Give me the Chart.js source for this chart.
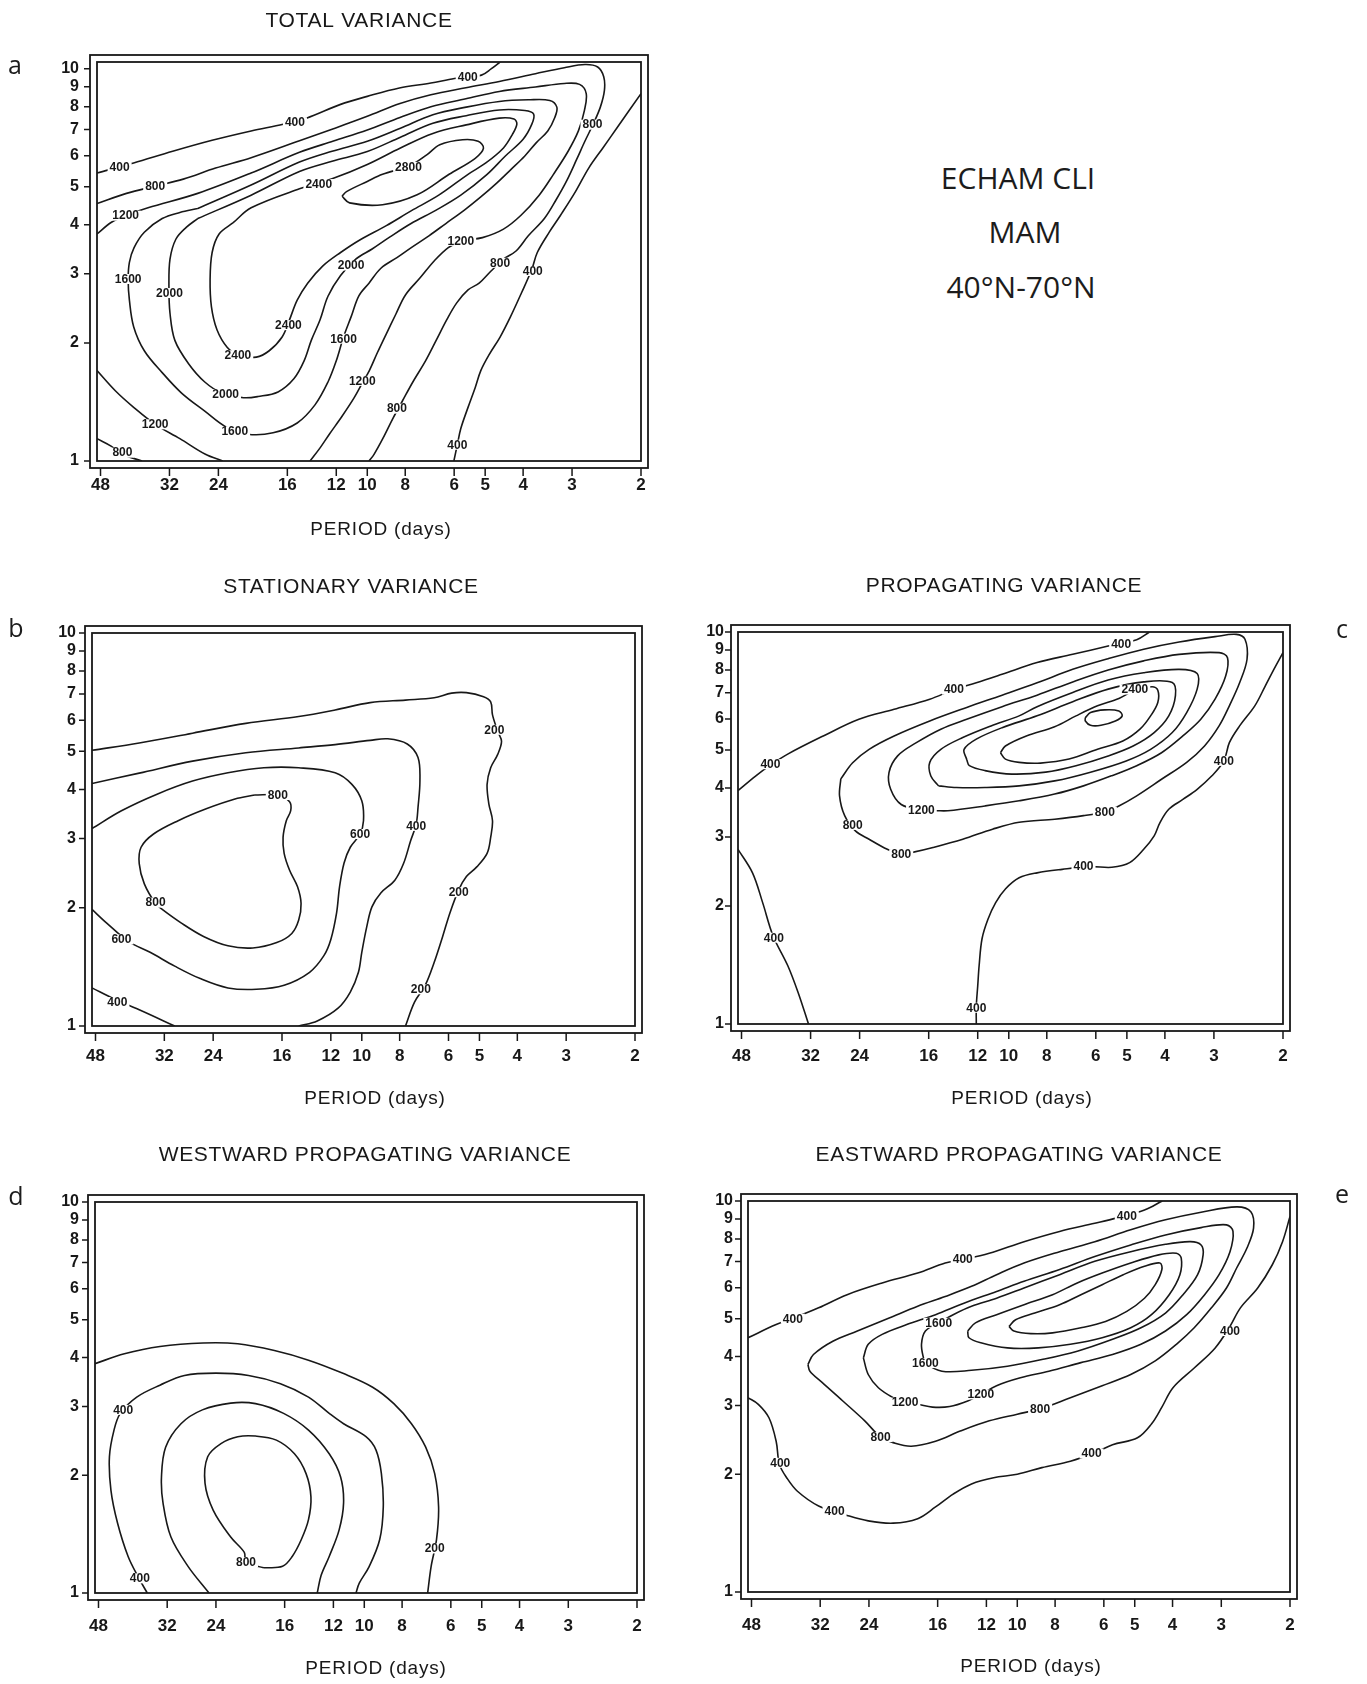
<!DOCTYPE html>
<html>
<head>
<meta charset="utf-8">
<title>ECHAM CLI MAM 40°N-70°N variance spectra</title>
<script src="https://cdn.jsdelivr.net/npm/chart.js@4.4.1/dist/chart.umd.min.js"></script>
<style>
  html, body { margin: 0; padding: 0; background: #fff; }
  #page { position: relative; width: 1367px; height: 1684px; background: #fff; overflow: hidden; }
  #page canvas { position: absolute; }
  .tag { position: absolute; transform: translate(-50%, -50%); font-family: "Open Sans", "DejaVu Sans", sans-serif; color: #1c1c1c; white-space: nowrap; }
  .letter { font-size: 25px; }
  .info { font-size: 30px; }
</style>
</head>
<body>
<div id="page">
  <canvas id="totalChart"></canvas>
  <canvas id="stationaryChart"></canvas>
  <canvas id="propagatingChart"></canvas>
  <canvas id="westwardChart"></canvas>
  <canvas id="eastwardChart"></canvas>

  <div class="tag letter" style="left:15px;top:64px">a</div>
  <div class="tag letter" style="left:16px;top:627px">b</div>
  <div class="tag letter" style="left:1342px;top:628px">c</div>
  <div class="tag letter" style="left:16px;top:1195px">d</div>
  <div class="tag letter" style="left:1342px;top:1193px">e</div>

  <div class="tag info" style="left:1018px;top:177px">ECHAM CLI</div>
  <div class="tag info" style="left:1025px;top:231px">MAM</div>
  <div class="tag info" style="left:1021px;top:286px">40°N-70°N</div>
</div>

<script>
// axis ticks: period in days (log, reversed) and zonal wavenumber (log)
const periodTicks = [48, 32, 24, 16, 12, 10, 8, 6, 5, 4, 3, 2];
const waveTicks = [1, 2, 3, 4, 5, 6, 7, 8, 9, 10];

// contour lines, [period, wavenumber]
// a) total variance
const total400a = [[49,5.42],[39.5,5.75],[31.4,6.16],[24.9,6.57],[19.8,6.94],[16.4,7.22],[14.3,7.48],[11.7,8.11],[10.0,8.50],[8.28,8.93],[6.88,9.19],[5.99,9.44],[5.11,9.63],[4.82,10.0],[4.58,10.4]];
const total400b = [[2,8.64],[2.30,7.08],[2.50,6.29],[2.72,5.58],[2.94,4.86],[3.21,4.23],[3.43,3.83],[3.68,3.40],[3.80,3.08],[4.04,2.68],[4.31,2.33],[4.58,2.07],[4.88,1.87],[5.13,1.70],[5.30,1.54],[5.53,1.37],[5.77,1.21],[5.89,1.10],[6.01,1.0]];
const total800a = [[49,4.53],[41.2,4.81],[34.8,5.02],[29.5,5.23],[24.4,5.58],[19.8,5.93],[14.9,6.55],[12.2,7.03],[10.0,7.56],[8.25,8.15],[6.88,8.58],[5.60,8.94],[4.60,9.28],[3.72,9.71],[3.14,10.06],[2.78,10.25],[2.58,10.10],[2.49,9.54],[2.48,8.80],[2.54,7.98],[2.65,7.22],[2.78,6.54],[2.92,5.87],[3.09,5.20],[3.30,4.62],[3.53,4.15],[3.88,3.75],[4.17,3.43],[4.49,3.27],[4.83,3.05],[5.18,2.84],[5.53,2.73],[5.91,2.53],[6.27,2.29],[6.67,2.03],[7.10,1.80],[7.65,1.59],[8.14,1.42],[8.58,1.29],[9.13,1.14],[9.61,1.04],[9.90,1.0]];
const total800b = [[49,1.14],[45.0,1.09],[42.2,1.04],[37.6,1.0]];
const total1200a = [[49,3.79],[45.0,4.06],[41.2,4.23],[36.3,4.42],[27.1,4.81],[19.8,5.42],[14.9,6.12],[12.2,6.54],[10.0,6.98],[8.25,7.51],[6.88,8.00],[5.60,8.38],[4.60,8.75],[3.72,8.98],[3.14,9.17],[2.87,9.12],[2.76,8.64],[2.79,7.82],[2.89,6.94],[3.07,6.16],[3.35,5.37],[3.64,4.76],[4.05,4.23],[4.49,3.90],[5.08,3.71],[5.74,3.64],[6.21,3.50],[6.74,3.24],[7.33,2.93],[7.99,2.65],[8.45,2.37],[8.94,2.11],[9.42,1.89],[9.88,1.70],[10.3,1.58],[10.8,1.45],[11.6,1.30],[12.5,1.17],[13.2,1.08],[14.0,1.0]];
const total1200b = [[49,1.70],[44.0,1.51],[39.5,1.37],[34.8,1.24],[30.1,1.14],[25.9,1.04],[23.4,1.0]];
const total1600 = [[27.1,4.40],[19.8,5.05],[14.9,5.78],[12.3,6.16],[10.0,6.53],[8.23,7.05],[6.80,7.63],[5.59,7.98],[4.60,8.25],[3.88,8.33],[3.42,8.30],[3.28,7.98],[3.32,7.51],[3.46,6.94],[3.70,6.48],[3.96,5.99],[4.30,5.53],[4.68,5.10],[5.13,4.71],[5.65,4.36],[6.30,4.03],[6.96,3.75],[7.72,3.50],[8.40,3.30],[9.23,3.10],[9.90,2.84],[10.5,2.64],[11.0,2.33],[11.5,2.07],[12.0,1.80],[12.6,1.59],[13.6,1.39],[15.1,1.25],[17.4,1.18],[20.2,1.17],[22.9,1.22],[26.0,1.34],[29.8,1.49],[33.4,1.68],[37.1,1.91],[39.5,2.20],[40.5,2.57],[40.8,2.90],[40.5,3.21],[39.4,3.50],[37.1,3.83],[33.4,4.15],[30.1,4.30],[27.1,4.40]];
const total2000 = [[27.1,4.15],[19.8,4.76],[14.9,5.47],[12.3,5.81],[10.0,6.15],[8.23,6.69],[6.80,7.26],[5.59,7.59],[4.60,7.85],[3.96,7.82],[3.76,7.66],[3.80,7.22],[4.00,6.61],[4.44,5.99],[4.96,5.36],[5.77,4.76],[6.67,4.36],[7.73,4.03],[8.77,3.72],[9.72,3.47],[10.7,3.27],[11.7,2.97],[12.6,2.63],[13.2,2.29],[13.9,2.03],[14.5,1.80],[15.4,1.62],[16.9,1.50],[19.0,1.46],[20.7,1.45],[23.5,1.49],[26.0,1.59],[28.6,1.77],[31.0,2.03],[31.9,2.38],[32.1,2.78],[31.9,3.27],[30.8,3.68],[29.0,3.94],[27.1,4.15]];
const total2400 = [[22.0,4.05],[19.8,4.42],[14.9,4.94],[12.3,5.24],[10.0,5.70],[8.23,6.28],[6.80,6.84],[5.59,7.19],[4.60,7.48],[4.22,7.44],[4.15,7.22],[4.26,6.80],[4.49,6.28],[4.98,5.75],[5.53,5.38],[6.57,4.76],[7.73,4.34],[8.94,3.98],[10.4,3.67],[11.7,3.40],[13.0,3.14],[14.2,2.84],[15.1,2.57],[15.8,2.29],[16.5,2.07],[17.8,1.91],[19.2,1.84],[21.3,1.86],[22.8,1.95],[24.2,2.16],[25.0,2.47],[25.2,2.90],[24.9,3.40],[23.9,3.79],[22.0,4.05]];
const total2800 = [[11.6,4.73],[11.1,4.55],[9.14,4.50],[7.46,4.77],[6.18,5.38],[5.30,5.91],[5.05,6.27],[5.21,6.53],[5.71,6.59],[6.53,6.40],[7.05,6.03],[7.79,5.66],[9.14,5.38],[10.0,5.16],[11.3,4.86],[11.6,4.73]];
const totalLabels = [[42.9,5.6,'400'],[15.3,7.3,'400'],[5.54,9.5,'400'],[3.78,3.05,'400'],[5.89,1.10,'400'],
  [34.8,5.03,'800'],[2.66,7.2,'800'],[4.58,3.2,'800'],[8.40,1.36,'800'],[42.2,1.05,'800'],
  [41.4,4.22,'1200'],[5.77,3.64,'1200'],[10.3,1.60,'1200'],[34.8,1.24,'1200'],
  [40.8,2.91,'1600'],[11.5,2.05,'1600'],[21.8,1.19,'1600'],
  [32.0,2.68,'2000'],[23.0,1.48,'2000'],[11.0,3.15,'2000'],
  [13.3,5.08,'2400'],[15.9,2.22,'2400'],[21.4,1.86,'2400'],[7.85,5.62,'2800']];

// b) stationary variance
const stat200 = [[49,5.03],[37.1,5.25],[27.1,5.56],[19.8,5.89],[14.5,6.13],[11.7,6.37],[9.52,6.65],[7.73,6.75],[6.53,6.84],[5.89,7.03],[5.40,7.05],[4.88,6.88],[4.68,6.68],[4.63,6.19],[4.49,5.62],[4.39,5.30],[4.49,4.91],[4.68,4.54],[4.78,4.12],[4.73,3.67],[4.63,3.33],[4.68,3.02],[4.78,2.75],[5.08,2.54],[5.40,2.40],[5.65,2.22],[5.95,1.94],[6.21,1.69],[6.53,1.45],[6.88,1.27],[7.33,1.15],[7.73,1.0]];
const stat400a = [[49,4.14],[37.1,4.40],[27.1,4.72],[19.8,4.96],[14.5,5.10],[11.7,5.20],[9.52,5.33],[8.58,5.38],[7.65,5.22],[7.18,4.82],[7.10,4.20],[7.18,3.60],[7.26,3.26],[7.50,2.96],[7.82,2.59],[8.23,2.35],[8.94,2.18],[9.42,2.01],[9.71,1.79],[10.0,1.54],[10.2,1.37],[10.7,1.22],[11.5,1.11],[13.0,1.03],[14.5,1.0]];
const stat400b = [[49,1.25],[42.9,1.17],[37.1,1.10],[30.1,1.0]];
const stat600 = [[49,3.18],[41.2,3.53],[33.4,3.89],[27.1,4.20],[22.0,4.41],[17.8,4.54],[14.5,4.54],[11.7,4.41],[10.6,4.12],[10.0,3.74],[9.90,3.33],[10.1,3.08],[10.7,2.85],[11.1,2.60],[11.4,2.26],[11.6,1.94],[12.0,1.66],[12.5,1.51],[13.6,1.37],[15.8,1.27],[18.6,1.24],[22.0,1.25],[25.9,1.32],[30.1,1.42],[34.8,1.54],[39.5,1.64],[45.0,1.83],[49,1.98]];
const stat800 = [[18.8,3.87],[16.4,3.87],[15.3,3.72],[15.2,3.53],[15.6,3.33],[15.9,3.02],[15.8,2.75],[15.3,2.49],[14.6,2.26],[14.3,2.05],[14.5,1.86],[15.1,1.72],[16.5,1.63],[19.0,1.58],[22.0,1.60],[25.4,1.69],[29.0,1.83],[32.4,1.98],[33.7,2.05],[36.0,2.30],[37.1,2.59],[36.7,2.85],[34.1,3.08],[29.5,3.33],[25.0,3.57],[21.1,3.78],[18.8,3.87]];
const statLabels = [[4.58,5.67,'200'],[5.65,2.19,'200'],[7.06,1.24,'200'],[7.26,3.23,'400'],[42.2,1.15,'400'],
  [10.1,3.08,'600'],[41.2,1.66,'600'],[16.4,3.87,'800'],[33.7,2.06,'800']];

// c) propagating variance
const prop400a = [[49,3.94],[44.2,4.29],[40.7,4.56],[36.6,4.88],[29.7,5.43],[24.1,5.99],[19.6,6.35],[15.9,6.74],[13.8,7.13],[12.1,7.42],[10.4,7.80],[8.47,8.36],[6.87,8.77],[5.58,9.21],[4.72,9.56],[4.38,10.0]];
const prop400b = [[2,8.86],[2.11,8.03],[2.22,7.28],[2.36,6.48],[2.58,5.76],[2.74,5.22],[2.83,4.69],[3.04,4.29],[3.31,3.97],[3.60,3.74],[3.91,3.53],[4.12,3.26],[4.26,3.02],[4.53,2.79],[4.92,2.58],[5.46,2.51],[6.19,2.52],[7.31,2.48],[8.47,2.43],[9.41,2.36],[10.2,2.21],[10.8,2.04],[11.3,1.85],[11.7,1.65],[11.9,1.41],[12.0,1.25],[12.1,1.11],[12.1,1.0]];
const prop400c = [[49,2.79],[45.0,2.43],[42.4,2.04],[39.9,1.68],[36.6,1.41],[34.4,1.20],[32.4,1.0]];
const prop800 = [[26.8,4.22],[25.0,4.64],[22.7,5.02],[19.6,5.43],[15.9,5.93],[12.8,6.42],[10.4,6.90],[8.47,7.42],[6.87,8.03],[5.58,8.55],[4.53,9.04],[3.68,9.43],[2.98,9.73],[2.63,9.86],[2.50,9.58],[2.47,8.52],[2.58,7.42],[2.74,6.48],[2.91,5.76],[3.17,5.12],[3.52,4.65],[4.08,4.21],[4.72,3.82],[5.24,3.60],[5.69,3.48],[6.45,3.40],[7.64,3.33],[9.41,3.27],[11.0,3.14],[13.1,2.96],[15.6,2.82],[17.6,2.74],[18.8,2.71],[20.4,2.79],[22.7,2.96],[24.6,3.11],[26.2,3.40],[27.0,3.82],[26.8,4.22]];
const prop1200 = [[15.3,3.50],[16.7,3.52],[18.8,3.63],[20.0,3.97],[20.2,4.38],[19.2,4.83],[17.2,5.22],[14.9,5.65],[12.8,5.99],[10.4,6.45],[8.47,6.90],[6.87,7.46],[5.58,8.00],[4.53,8.44],[3.68,8.77],[2.91,8.86],[2.77,8.60],[2.80,7.72],[2.98,6.74],[3.24,5.99],[3.60,5.43],[4.08,4.92],[4.72,4.56],[5.46,4.30],[6.45,4.05],[7.64,3.86],[9.41,3.71],[11.5,3.60],[14.3,3.50],[15.3,3.50]];
const prop1600 = [[15.1,4.05],[15.8,4.29],[15.9,4.65],[14.9,5.02],[13.1,5.38],[11.1,5.76],[9.41,6.11],[8.47,6.45],[6.87,7.01],[5.58,7.54],[4.53,7.87],[3.68,8.03],[3.31,7.84],[3.31,7.15],[3.52,6.23],[3.83,5.54],[4.35,5.02],[5.02,4.69],[6.19,4.39],[7.64,4.17],[9.41,4.05],[11.5,4.01],[13.6,4.01],[15.1,4.05]];
const prop2000 = [[12.8,4.73],[13.0,5.02],[12.1,5.33],[10.4,5.70],[8.47,6.11],[6.87,6.64],[5.58,7.15],[4.53,7.46],[3.83,7.43],[3.76,6.88],[3.91,6.11],[4.26,5.54],[4.82,5.12],[5.58,4.83],[6.74,4.56],[8.05,4.39],[9.82,4.34],[11.5,4.43],[12.6,4.56],[12.8,4.73]];
const prop2400 = [[10.5,4.92],[10.2,5.12],[9.02,5.43],[7.64,5.73],[6.74,6.11],[5.94,6.48],[5.24,6.77],[4.77,7.10],[4.31,7.25],[4.17,7.10],[4.17,6.61],[4.35,6.11],[4.63,5.65],[5.12,5.27],[5.94,5.02],[7.02,4.74],[8.30,4.63],[9.41,4.65],[10.2,4.74],[10.5,4.92]];
const prop2800 = [[6.38,6.05],[6.19,6.23],[5.70,6.33],[5.24,6.29],[5.14,6.11],[5.35,5.93],[5.82,5.78],[6.19,5.78],[6.38,5.93],[6.38,6.05]];
const propLabels = [[5.17,9.3,'400'],[13.8,7.13,'400'],[40.5,4.6,'400'],[2.83,4.69,'400'],[6.45,2.52,'400'],[12.1,1.10,'400'],[39.7,1.66,'400'],
  [25.0,3.22,'800'],[18.8,2.71,'800'],[5.69,3.48,'800'],[16.7,3.52,'1200'],[4.77,7.13,'2400']];

// d) westward propagating variance
const west200 = [[49,3.86],[41.2,4.09],[33.4,4.27],[25.9,4.36],[21.1,4.34],[17.0,4.17],[13.9,3.94],[11.3,3.64],[9.52,3.36],[8.40,3.05],[7.57,2.71],[6.96,2.36],[6.60,2.02],[6.45,1.66],[6.53,1.37],[6.74,1.17],[6.88,1.0]];
const west400 = [[36.0,1.0],[37.8,1.09],[40.3,1.24],[42.9,1.51],[44.6,1.83],[45.0,2.23],[43.8,2.61],[42.2,2.88],[38.3,3.17],[33.4,3.40],[28.9,3.60],[24.0,3.65],[19.8,3.60],[16.4,3.43],[13.9,3.17],[12.3,2.88],[11.3,2.71],[9.90,2.51],[9.33,2.32],[9.04,2.02],[8.94,1.66],[9.13,1.37],[9.71,1.17],[10.3,1.06],[10.5,1.0]];
const west600 = [[25.0,1.0],[28.3,1.17],[31.3,1.39],[32.8,1.70],[33.1,1.98],[32.3,2.36],[29.5,2.71],[26.0,2.94],[22.0,3.06],[19.0,3.05],[16.1,2.88],[13.9,2.61],[12.3,2.27],[11.5,1.98],[11.3,1.70],[11.6,1.45],[12.3,1.24],[12.9,1.11],[13.2,1.0]];
const west800 = [[18.1,1.16],[16.2,1.17],[15.3,1.24],[14.5,1.37],[13.9,1.54],[13.7,1.76],[14.1,2.02],[15.1,2.27],[16.8,2.46],[19.0,2.52],[21.1,2.51],[23.3,2.41],[25.2,2.23],[25.6,1.91],[24.4,1.63],[22.0,1.39],[20.3,1.27],[20.1,1.20],[18.1,1.16]];
const westLabels = [[41.5,2.94,'400'],[37.6,1.09,'400'],[20.1,1.20,'800'],[6.6,1.30,'200']];

// e) eastward propagating variance
const east400a = [[49,4.47],[41.5,4.83],[37.4,5.02],[32.3,5.33],[27.3,5.76],[22.2,6.17],[18.0,6.54],[15.3,6.94],[13.8,7.08],[11.8,7.35],[9.61,7.87],[7.79,8.36],[6.33,8.77],[5.58,9.04],[4.72,9.49],[4.25,10.0]];
const east400b = [[2,9.13],[2.09,7.87],[2.22,6.87],[2.42,5.99],[2.68,5.33],[2.85,4.78],[3.11,4.21],[3.52,3.74],[3.99,3.33],[4.26,2.97],[4.53,2.69],[4.92,2.48],[5.70,2.38],[6.33,2.27],[7.31,2.16],[8.65,2.08],[10.0,2.00],[11.5,1.96],[13.1,1.89],[14.6,1.78],[16.2,1.65],[18.0,1.54],[20.8,1.50],[24.1,1.52],[27.3,1.57],[32.3,1.66],[36.6,1.81],[39.0,1.96],[40.7,2.12],[41.5,2.43],[43.3,2.79],[46.1,3.02],[49,3.14]];
const east800 = [[34.4,3.82],[33.3,4.05],[29.7,4.38],[25.7,4.65],[21.3,5.02],[18.0,5.38],[15.3,5.70],[13.1,6.05],[11.3,6.48],[9.61,6.94],[7.79,7.42],[6.33,7.87],[5.12,8.44],[4.17,8.95],[3.38,9.36],[2.74,9.66],[2.52,9.39],[2.48,8.52],[2.58,7.57],[2.74,6.74],[2.91,5.99],[3.18,5.33],[3.52,4.74],[3.91,4.30],[4.43,3.90],[5.12,3.60],[6.06,3.37],[7.31,3.14],[8.74,2.94],[10.0,2.85],[11.8,2.74],[14.0,2.58],[16.2,2.43],[18.7,2.36],[20.8,2.41],[22.4,2.49],[24.6,2.74],[28.0,3.08],[31.6,3.43],[34.0,3.67],[34.4,3.82]];
const east1200 = [[24.8,3.97],[24.1,4.30],[22.2,4.56],[19.2,4.83],[16.2,5.12],[13.7,5.48],[11.3,5.87],[9.61,6.23],[7.79,6.68],[6.33,7.21],[5.12,7.72],[4.17,8.19],[3.38,8.55],[2.91,8.69],[2.80,8.36],[2.85,7.42],[3.04,6.48],[3.31,5.76],[3.68,5.12],[4.17,4.65],[4.82,4.30],[5.70,4.05],[6.87,3.86],[8.30,3.67],[9.82,3.53],[11.3,3.37],[12.4,3.20],[13.4,3.08],[14.9,2.98],[16.5,2.97],[18.0,3.02],[19.4,3.05],[20.8,3.14],[22.7,3.33],[24.1,3.60],[24.8,3.97]];
const east1600 = [[15.9,4.88],[17.2,4.65],[17.6,4.30],[17.4,3.97],[17.2,3.85],[15.6,3.67],[13.1,3.69],[10.6,3.78],[8.65,3.93],[7.02,4.13],[5.70,4.43],[4.82,4.74],[4.17,5.17],[3.76,5.76],[3.45,6.48],[3.34,7.28],[3.38,7.72],[3.60,7.87],[4.17,7.75],[5.12,7.42],[6.33,7.01],[7.79,6.48],[9.61,5.99],[11.3,5.64],[13.1,5.38],[14.6,5.12],[15.9,4.88]];
const east2000 = [[13.4,4.65],[12.8,4.88],[11.3,5.12],[9.61,5.43],[8.12,5.76],[7.02,6.17],[6.06,6.54],[5.12,6.94],[4.34,7.28],[3.91,7.35],[3.80,7.14],[3.83,6.48],[4.08,5.76],[4.53,5.12],[5.12,4.74],[6.06,4.47],[7.31,4.30],[8.83,4.21],[10.6,4.21],[12.4,4.34],[13.3,4.47],[13.4,4.65]];
const east2400 = [[10.5,4.78],[10.1,4.97],[9.02,5.17],[7.79,5.43],[6.87,5.76],[6.06,6.11],[5.35,6.48],[4.72,6.81],[4.31,6.94],[4.26,6.68],[4.43,6.11],[4.72,5.64],[5.24,5.22],[5.94,4.92],[6.87,4.74],[8.12,4.60],[9.23,4.58],[10.2,4.65],[10.5,4.78]];
const eastLabels = [[37.6,5.0,'400'],[13.8,7.1,'400'],[5.24,9.15,'400'],[2.85,4.65,'400'],[6.45,2.26,'400'],[29.4,1.61,'400'],[40.5,2.14,'400'],
  [22.4,2.49,'800'],[8.74,2.94,'800'],[19.4,3.05,'1200'],[12.4,3.20,'1200'],[15.9,4.88,'1600'],[17.2,3.85,'1600']];

const ink = '#181818';
const tickFont = { family: '"Liberation Sans", Arial, sans-serif', size: 17, weight: 'bold' };
const waveFont = { family: '"Liberation Sans", Arial, sans-serif', size: 16, weight: 'bold' };

// page layout of each panel: canvas box and plot box in page pixels
const panels = [
  { canvas: 'totalChart', box: [0, 0, 683, 560], plot: [97, 62, 641, 461], yMax: 10.4, yPad: 18, xGap: 24,
    title: 'TOTAL VARIANCE', titleAt: [359, 21], periodAt: [381, 530],
    lines: [total400a, total400b, total800a, total800b, total1200a, total1200b, total1600, total2000, total2400, total2800], labels: totalLabels },
  { canvas: 'stationaryChart', box: [0, 560, 683, 565], plot: [92, 633, 635, 1026], yMax: 10, yPad: 16, xGap: 30,
    title: 'STATIONARY VARIANCE', titleAt: [351, 587], periodAt: [375, 1099],
    lines: [stat200, stat400a, stat400b, stat600, stat800], labels: statLabels },
  { canvas: 'propagatingChart', box: [683, 560, 684, 565], plot: [738, 632, 1283, 1024], yMax: 10, yPad: 14, xGap: 32,
    title: 'PROPAGATING VARIANCE', titleAt: [1004, 586], periodAt: [1022, 1099],
    lines: [prop400a, prop400b, prop400c, prop800, prop1200, prop1600, prop2000, prop2400, prop2800], labels: propLabels },
  { canvas: 'westwardChart', box: [0, 1125, 683, 559], plot: [95, 1202, 637, 1593], yMax: 10, yPad: 16, xGap: 33,
    title: 'WESTWARD PROPAGATING VARIANCE', titleAt: [365, 1155], periodAt: [376, 1669],
    lines: [west200, west400, west600, west800], labels: westLabels },
  { canvas: 'eastwardChart', box: [683, 1125, 684, 559], plot: [748, 1201, 1290, 1592], yMax: 10, yPad: 15, xGap: 33,
    title: 'EASTWARD PROPAGATING VARIANCE', titleAt: [1019, 1155], periodAt: [1031, 1667],
    lines: [east400a, east400b, east800, east1200, east1600, east2000, east2400], labels: eastLabels }
];

// double frame, outer tick marks, titles and contour labels
function decorFor(p) {
  const [bx, by] = p.box;
  return {
    id: 'panelDecor',
    afterDatasetsDraw(chart) {
      const { ctx, scales: { x, y } } = chart;
      ctx.save();
      ctx.font = '600 12px "Liberation Sans", Arial, sans-serif';
      ctx.textAlign = 'center';
      ctx.textBaseline = 'middle';
      p.labels.forEach(([period, wave, text]) => {
        const cx = x.getPixelForValue(period);
        const cy = y.getPixelForValue(wave);
        const w = ctx.measureText(text).width;
        ctx.fillStyle = '#fff';
        ctx.fillRect(cx - w / 2 - 2, cy - 5, w + 4, 10);
        ctx.fillStyle = ink;
        ctx.fillText(text, cx, cy + 0.5);
      });
      ctx.restore();
    },
    afterDraw(chart) {
      const { ctx, chartArea: { left, top, right, bottom }, scales: { x, y } } = chart;
      ctx.save();
      ctx.strokeStyle = ink;
      ctx.lineWidth = 1.8;
      ctx.strokeRect(left, top, right - left, bottom - top);
      ctx.strokeRect(left - 7, top - 7, right - left + 14, bottom - top + 14);
      ctx.lineWidth = 1.5;
      ctx.beginPath();
      periodTicks.forEach(v => {
        const px = x.getPixelForValue(v);
        ctx.moveTo(px, bottom + 7);
        ctx.lineTo(px, bottom + 15);
      });
      waveTicks.forEach(v => {
        const py = y.getPixelForValue(v);
        ctx.moveTo(left - 7, py);
        ctx.lineTo(left - 13, py);
      });
      ctx.stroke();

      ctx.fillStyle = ink;
      ctx.textAlign = 'center';
      ctx.textBaseline = 'middle';
      ctx.font = '21px "Liberation Sans", Arial, sans-serif';
      ctx.letterSpacing = '0.7px';
      ctx.fillText(p.title, p.titleAt[0] - bx, p.titleAt[1] - by);
      ctx.font = '19px "Liberation Sans", Arial, sans-serif';
      ctx.letterSpacing = '0.8px';
      ctx.fillText('PERIOD (days)', p.periodAt[0] - bx, p.periodAt[1] - by);
      ctx.restore();
    }
  };
}

function makeChart(p) {
  const [bx, by, bw, bh] = p.box;
  const [l, t, r, b] = p.plot;
  const el = document.getElementById(p.canvas);
  el.width = bw;
  el.height = bh;
  el.style.left = bx + 'px';
  el.style.top = by + 'px';
  el.style.width = bw + 'px';
  el.style.height = bh + 'px';

  return new Chart(el, {
    type: 'scatter',
    data: {
      datasets: p.lines.map(pts => ({
        data: pts.map(([x, y]) => ({ x, y })),
        showLine: true,
        borderColor: ink,
        borderWidth: 1.6,
        pointRadius: 0,
        tension: 0.35
      }))
    },
    options: {
      responsive: false,
      animation: false,
      events: [],
      layout: { padding: { left: 0, top: t - by, right: bx + bw - r, bottom: 0 } },
      plugins: { legend: { display: false }, tooltip: { enabled: false } },
      scales: {
        x: {
          type: 'logarithmic',
          reverse: true,
          min: 2,
          max: 49,
          afterBuildTicks: s => { s.ticks = periodTicks.map(v => ({ value: v })); },
          afterFit: s => { s.height = by + bh - b; s.paddingLeft = 0; s.paddingRight = 0; },
          grid: { display: false, drawTicks: false },
          border: { display: false },
          ticks: {
            autoSkip: false, maxRotation: 0, minRotation: 0,
            padding: p.xGap - 10, color: ink, font: tickFont,
            callback: v => String(v)
          }
        },
        y: {
          type: 'logarithmic',
          min: 1,
          max: p.yMax,
          afterBuildTicks: s => { s.ticks = waveTicks.map(v => ({ value: v })); },
          afterFit: s => { s.width = l - bx; s.paddingTop = 0; s.paddingBottom = 0; },
          grid: { display: false, drawTicks: false },
          border: { display: false },
          ticks: {
            autoSkip: false, padding: p.yPad, color: ink, font: waveFont,
            callback: v => String(v)
          }
        }
      }
    },
    plugins: [decorFor(p)]
  });
}

panels.forEach(makeChart);
</script>
</body>
</html>
